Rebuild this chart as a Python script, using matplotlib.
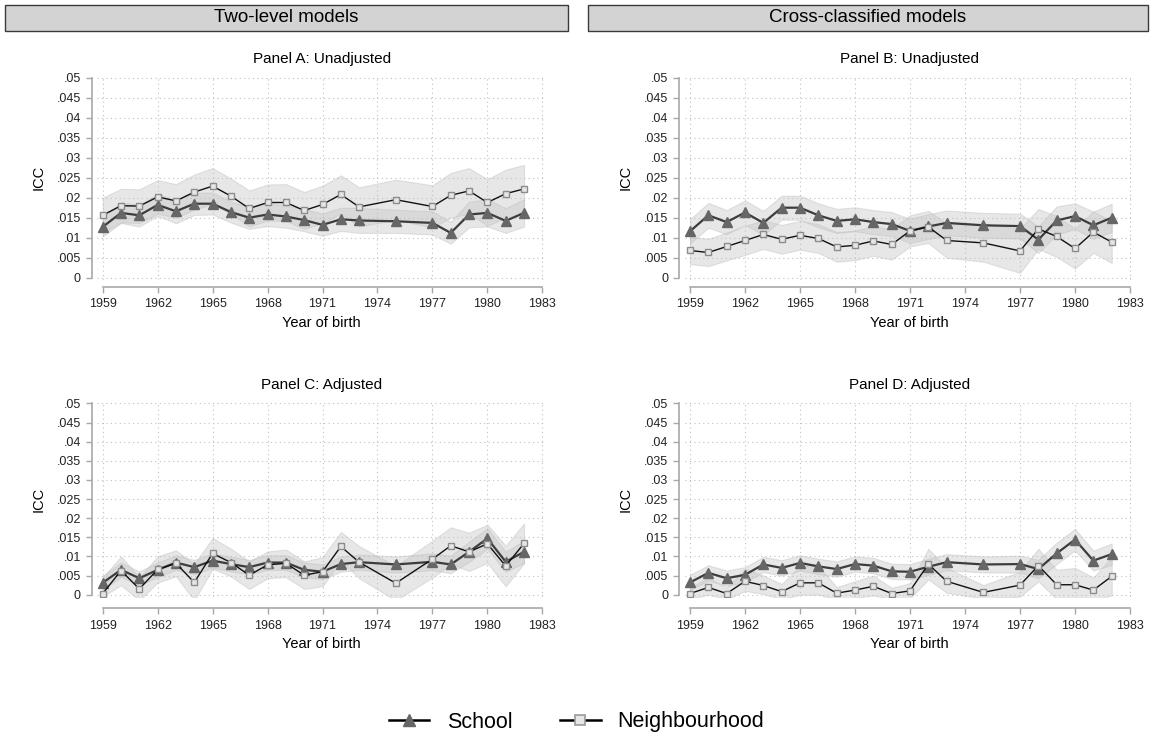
import matplotlib.pyplot as plt
import matplotlib.patches as mpatches
from matplotlib.lines import Line2D
from matplotlib.ticker import FuncFormatter

plt.rcParams['font.family'] = ['Liberation Sans', 'DejaVu Sans']

years = [1959, 1960, 1961, 1962, 1963, 1964, 1965, 1966, 1967, 1968, 1969, 1970,
         1971, 1972, 1973, 1975, 1977, 1978, 1979, 1980, 1981, 1982]

# Panel A: two-level, unadjusted
a_school = [.0127, .0162, .0156, .0182, .0166, .0185, .0185, .0164, .0150, .0158, .0153, .0144,
            .0132, .0146, .0143, .0141, .0137, .0112, .0158, .0162, .0142, .0162]
a_school_lo = [.0103, .0137, .0128, .0155, .0136, .0157, .0158, .0138, .0122, .0129, .0125, .0116,
               .0105, .0117, .0112, .0112, .0108, .0085, .0126, .0128, .0112, .0128]
a_school_hi = [.0152, .0188, .0183, .0209, .0194, .0212, .0213, .0190, .0177, .0186, .0180, .0172,
               .0160, .0175, .0174, .0170, .0166, .0140, .0190, .0196, .0174, .0196]
a_nbh = [.0156, .0180, .0179, .0202, .0192, .0214, .0229, .0204, .0173, .0188, .0188, .0168,
         .0183, .0208, .0177, .0195, .0178, .0206, .0217, .0188, .0210, .0222]
a_nbh_lo = [.0112, .0138, .0137, .0160, .0150, .0170, .0184, .0160, .0128, .0143, .0142, .0122,
            .0136, .0160, .0128, .0145, .0125, .0150, .0160, .0130, .0150, .0162]
a_nbh_hi = [.0200, .0222, .0221, .0244, .0234, .0258, .0274, .0248, .0218, .0233, .0234, .0214,
            .0230, .0256, .0226, .0245, .0231, .0262, .0274, .0246, .0270, .0282]

# Panel B: cross-classified, unadjusted
b_school = [.0116, .0156, .0139, .0163, .0137, .0175, .0175, .0156, .0142, .0146, .0139, .0134,
            .0117, .0128, .0137, .0131, .0129, .0095, .0143, .0154, .0131, .0150]
b_school_lo = [.0086, .0125, .0109, .0133, .0107, .0145, .0145, .0126, .0112, .0116, .0109, .0104,
               .0087, .0097, .0106, .0100, .0098, .0062, .0108, .0122, .0097, .0115]
b_school_hi = [.0146, .0187, .0169, .0193, .0167, .0205, .0205, .0186, .0172, .0176, .0169, .0164,
               .0147, .0159, .0168, .0162, .0160, .0128, .0178, .0186, .0165, .0185]
b_nbh = [.0068, .0063, .0078, .0093, .0108, .0096, .0106, .0098, .0077, .0081, .0092, .0083,
         .0117, .0127, .0093, .0087, .0067, .0122, .0103, .0073, .0114, .0089]
b_nbh_lo = [.0034, .0029, .0043, .0057, .0072, .0060, .0070, .0062, .0040, .0044, .0055, .0045,
            .0078, .0087, .0050, .0040, .0012, .0072, .0052, .0023, .0062, .0037]
b_nbh_hi = [.0102, .0097, .0113, .0129, .0144, .0132, .0142, .0134, .0114, .0118, .0129, .0121,
            .0156, .0167, .0136, .0134, .0122, .0172, .0154, .0123, .0166, .0141]

# Panel C: two-level, adjusted
c_school = [.0031, .0065, .0043, .0065, .0084, .0072, .0089, .0080, .0072, .0084, .0084, .0065,
            .0060, .0080, .0085, .0079, .0086, .0079, .0112, .0147, .0086, .0112]
c_school_lo = [.0013, .0046, .0025, .0046, .0065, .0053, .0070, .0061, .0053, .0065, .0065, .0046,
               .0041, .0060, .0065, .0058, .0064, .0056, .0086, .0120, .0060, .0083]
c_school_hi = [.0049, .0084, .0061, .0084, .0103, .0091, .0108, .0099, .0091, .0103, .0103, .0084,
               .0079, .0100, .0105, .0100, .0108, .0102, .0138, .0174, .0112, .0141]
c_nbh = [.0003, .0063, .0015, .0066, .0082, .0032, .0108, .0084, .0051, .0078, .0082, .0051,
         .0060, .0126, .0085, .0030, .0093, .0128, .0112, .0133, .0075, .0134]
c_nbh_lo = [-.0005, .0025, -.0015, .0032, .0048, -.0015, .0068, .0048, .0015, .0043, .0046, .0015,
            .0022, .0088, .0043, -.0015, .0045, .0080, .0062, .0083, .0022, .0082]
c_nbh_hi = [.0045, .0100, .0045, .0100, .0116, .0080, .0148, .0120, .0087, .0113, .0118, .0087,
            .0098, .0164, .0127, .0075, .0141, .0176, .0162, .0183, .0128, .0186]

# Panel D: cross-classified, adjusted
d_school = [.0032, .0057, .0043, .0052, .0079, .0070, .0083, .0074, .0067, .0080, .0076, .0061,
            .0060, .0073, .0085, .0079, .0080, .0067, .0108, .0144, .0089, .0106]
d_school_lo = [.0012, .0037, .0023, .0032, .0059, .0050, .0063, .0054, .0047, .0060, .0056, .0041,
               .0040, .0052, .0064, .0058, .0058, .0043, .0080, .0116, .0063, .0078]
d_school_hi = [.0052, .0077, .0063, .0072, .0099, .0090, .0103, .0094, .0087, .0100, .0096, .0081,
               .0080, .0094, .0106, .0100, .0102, .0091, .0136, .0172, .0115, .0134]
d_nbh = [.0003, .0019, .0003, .0035, .0024, .0008, .0031, .0031, .0004, .0012, .0022, .0003,
         .0010, .0080, .0035, .0006, .0025, .0076, .0026, .0026, .0012, .0048]
d_nbh_lo = [-.0012, .0000, -.0012, .0010, .0002, -.0012, .0000, .0000, -.0012, -.0008, -.0002, -.0012,
            -.0010, .0040, .0005, -.0010, -.0005, .0035, -.0012, -.0015, -.0015, -.0002]
d_nbh_hi = [.0018, .0045, .0018, .0068, .0050, .0028, .0075, .0075, .0020, .0035, .0050, .0018,
            .0030, .0120, .0070, .0025, .0060, .0120, .0065, .0070, .0045, .0098]

x_ticks = [1959, 1962, 1965, 1968, 1971, 1974, 1977, 1980, 1983]
y_ticks = [0, .005, .01, .015, .02, .025, .03, .035, .04, .045, .05]
headers = ['Two-level models', 'Cross-classified models']
series_names = ['School', 'Neighbourhood']

W, H = 1153, 746
AXIS_GREY = '#a8a8a8'
BAND = '#c4c4c4'


def ytick_fmt(v, pos):
    if abs(v) < 1e-9:
        return '0'
    return f'{v:.3f}'.rstrip('0').lstrip('0')


def px_axes(fig, left, right, top, bottom):
    return fig.add_axes([left / W, 1 - bottom / H, (right - left) / W, (bottom - top) / H])


def draw_panel(ax, title, school, s_lo, s_hi, nbh, n_lo, n_hi, xoff):
    ax.fill_between(years, n_lo, n_hi, facecolor=BAND, alpha=0.4, edgecolor='#bdbdbd', lw=0.8, zorder=1)
    ax.fill_between(years, s_lo, s_hi, facecolor=BAND, alpha=0.4, edgecolor='#bdbdbd', lw=0.8, zorder=1)
    ax.plot(years, school, color='#3c3c3c', lw=1.6, marker='^', ms=6.5,
            mfc='#666666', mec='#666666', zorder=3)
    ax.plot(years, nbh, color='#111111', lw=1.0, marker='s', ms=5,
            mfc='#e6e6e6', mec='#8c8c8c', mew=1.0, zorder=4)
    ax.set_xlim(1958.7, 1983.2)
    ax.set_ylim(-0.0005, 0.0505)
    ax.set_xticks(x_ticks)
    ax.set_yticks(y_ticks)
    ax.yaxis.set_major_formatter(FuncFormatter(ytick_fmt))
    ax.grid(True, ls=(0, (1, 3)), color='#c0c0c0', lw=0.8)
    ax.set_axisbelow(True)
    for s in ['top', 'right']:
        ax.spines[s].set_visible(False)
    ax.spines['left'].set_bounds(0, 0.05)
    ax.spines['bottom'].set_bounds(1959, 1983)
    ax.spines['left'].set_position(('outward', 3.8))
    ax.spines['bottom'].set_position(('outward', xoff))
    for s in ['left', 'bottom']:
        ax.spines[s].set_color(AXIS_GREY)
        ax.spines[s].set_linewidth(1.2)
    ax.tick_params(colors=AXIS_GREY, labelcolor='#222222', labelsize=9, length=4.5, width=1.0)
    ax.set_title(title, fontsize=11, pad=9)
    ax.set_xlabel('Year of birth', fontsize=10.5, labelpad=4)
    ax.set_ylabel('ICC', fontsize=10.5, labelpad=8)


fig = plt.figure(figsize=(W / 100, H / 100), dpi=100)

ax_a = px_axes(fig, 97.2, 546.0, 75.7, 279.7)
ax_b = px_axes(fig, 684.5, 1133.7, 75.7, 279.7)
ax_c = px_axes(fig, 97.2, 546.0, 401.5, 596.6)
ax_d = px_axes(fig, 684.5, 1133.7, 401.5, 596.6)

draw_panel(ax_a, 'Panel A: Unadjusted', a_school, a_school_lo, a_school_hi, a_nbh, a_nbh_lo, a_nbh_hi, 5.5)
draw_panel(ax_b, 'Panel B: Unadjusted', b_school, b_school_lo, b_school_hi, b_nbh, b_nbh_lo, b_nbh_hi, 5.5)
draw_panel(ax_c, 'Panel C: Adjusted', c_school, c_school_lo, c_school_hi, c_nbh, c_nbh_lo, c_nbh_hi, 8.5)
draw_panel(ax_d, 'Panel D: Adjusted', d_school, d_school_lo, d_school_hi, d_nbh, d_nbh_lo, d_nbh_hi, 8.5)

# column headers
for (x0, x1), text in zip([(5, 568), (588, 1148)], headers):
    rect = mpatches.Rectangle((x0 / W, 1 - 31 / H), (x1 - x0) / W, 26 / H, transform=fig.transFigure,
                              facecolor='#d3d3d3', edgecolor='#3a3a3a', lw=1.0)
    fig.patches.append(rect)
    fig.text((x0 + x1) / 2 / W, 1 - 18 / H, text, ha='center', va='center', fontsize=13.5)

handles = [Line2D([], [], color='black', lw=1.8, marker='^', ms=8.5, mfc='#666666', mec='#666666'),
           Line2D([], [], color='black', lw=1.8, marker='s', ms=6.5, mfc='#e6e6e6', mec='#999999', mew=1.2)]
fig.legend(handles, series_names, loc='center', bbox_to_anchor=(0.5, 1 - 722 / H),
           ncol=2, frameon=False, fontsize=15.5, handlelength=1.9, columnspacing=2.2, handletextpad=0.8)

fig.savefig('out.png', dpi=100, facecolor='white')
